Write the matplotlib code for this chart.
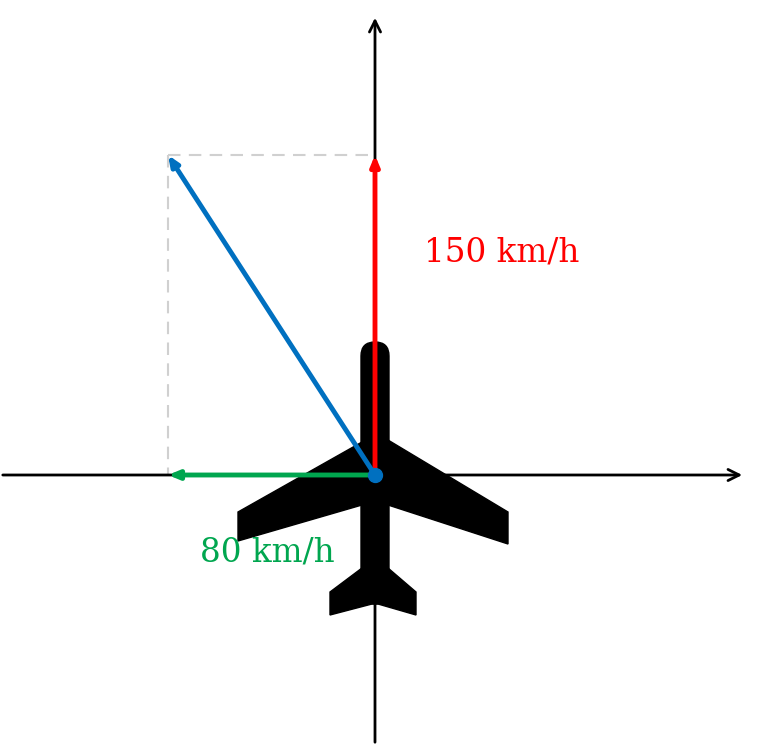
import matplotlib
matplotlib.use("Agg")
import matplotlib.pyplot as plt
from matplotlib.patches import Polygon, FancyBboxPatch

# pixel-space diagram data
origin = (375, 475)
north_tip = (375, 155)
west_tip = (168, 475)
result_tip = (168, 155)
labels = ["150 km/h", "80 km/h"]

fig = plt.figure(figsize=(7.61, 7.47), dpi=100)
ax = fig.add_axes([0, 0, 1, 1])
ax.set_xlim(0, 761); ax.set_ylim(747, 0); ax.axis("off")

# axes
ax.annotate("", xy=(745, 475), xytext=(0, 475),
            arrowprops=dict(arrowstyle="->,head_length=0.8,head_width=0.4", lw=2, color="black"))
ax.annotate("", xy=(375, 15), xytext=(375, 745),
            arrowprops=dict(arrowstyle="->,head_length=0.8,head_width=0.4", lw=2, color="black"))

# airplane
ax.add_patch(FancyBboxPatch((361, 342), 28, 262, boxstyle="round,pad=0,rounding_size=14", color="black", zorder=3))
ax.add_patch(Polygon([(362, 442), (238, 512), (238, 541), (362, 505)], color="black", zorder=3))
ax.add_patch(Polygon([(388, 440), (508, 512), (508, 544), (388, 505)], color="black", zorder=3))
ax.add_patch(Polygon([(362, 568), (330, 592), (330, 615), (372, 604), (378, 604), (416, 615), (416, 592), (388, 568)],
                     color="black", zorder=3))

# dashed guides
ax.plot([result_tip[0], north_tip[0]], [result_tip[1], north_tip[1]], ls=(0, (6, 4)), color="#d0d0d0", lw=1.5, zorder=2)
ax.plot([result_tip[0], west_tip[0]], [result_tip[1], west_tip[1]], ls=(0, (6, 4)), color="#d0d0d0", lw=1.5, zorder=2)

def arrow(tip, color):
    ax.annotate("", xy=tip, xytext=origin,
                arrowprops=dict(arrowstyle="-|>,head_length=0.6,head_width=0.25", lw=3.5, color=color,
                                shrinkA=0, shrinkB=0), zorder=5)

arrow(north_tip, "#ff0000")
arrow(west_tip, "#00a64f")
arrow(result_tip, "#0070c0")
ax.plot(*origin, "o", color="#0070c0", ms=10, zorder=6)

ax.text(424, 252, labels[0], color="#ff0000", fontsize=23.5, family="DejaVu Serif", va="center")
ax.text(200, 553, labels[1], color="#00a64f", fontsize=23.5, family="DejaVu Serif", va="center")

fig.savefig("out.png", dpi=100)
